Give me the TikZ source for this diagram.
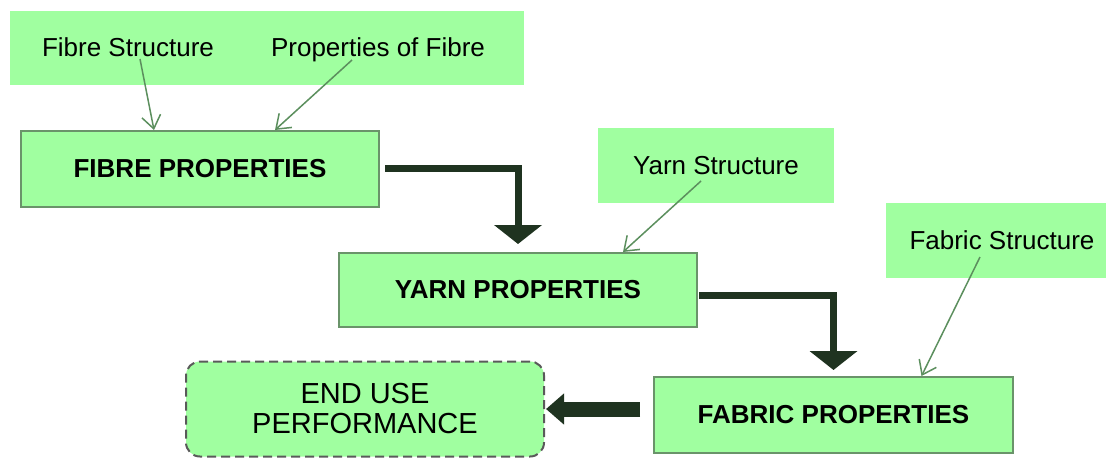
\documentclass[tikz,border=0pt]{standalone}
\usepackage{fontspec}
\setmainfont{Liberation Sans}
\usetikzlibrary{arrows.meta,calc}
\definecolor{boxfill}{HTML}{A0FFA0}
\definecolor{boxline}{HTML}{6A946A}
\definecolor{thinarr}{HTML}{5C8F5E}
\definecolor{thickarr}{HTML}{1F3320}
\definecolor{dashline}{HTML}{5A5A5A}
\begin{document}
\begin{tikzpicture}[x=1pt,y=-1pt,
  bgbox/.style={fill=boxfill, draw=none, inner sep=0pt},
  label/.style={inner sep=0pt, text height=19pt, text depth=5pt, font=\fontsize{26}{30}\selectfont},
  subbox/.style={fill=boxfill, draw=none, inner sep=0pt, font=\fontsize{26}{30}\selectfont},
  mainbox/.style={fill=boxfill, draw=boxline, line width=2pt, inner sep=0pt, font=\fontsize{26}{30}\selectfont\bfseries},
  endbox/.style={fill=boxfill, draw=dashline, line width=2pt, dash pattern=on 9pt off 5pt, rounded corners=14pt, inner sep=0pt, align=center, font=\fontsize{29}{30}\selectfont},
  thinarrow/.style={draw=thinarr, line width=1.5pt, -{Straight Barb[length=13pt,width=19pt]}},
  thickarrow/.style={draw=thickarr, line width=7pt, -{Triangle[width=47pt,length=19pt]}},
  thickarrowb/.style={draw=thickarr, line width=15pt, -{Triangle[width=30pt,length=18pt]}}
]
\useasboundingbox (0,0) rectangle (1108,459);
% top background box with two labels
\node[bgbox, minimum width=514pt, minimum height=74pt] (top) at (267,48) {};
\node[label] (fs) at (128,49) {Fibre Structure};
\node[label] (pf) at (378,49) {Properties of Fibre};
% main boxes
\node[mainbox, minimum width=358pt, minimum height=76pt] (fibre) at (200,169) {FIBRE PROPERTIES};
\node[subbox, minimum width=236pt, minimum height=75pt] (ys) at (716,165.5) {Yarn Structure};
\node[mainbox, minimum width=358pt, minimum height=74pt] (yarn) at (518,290) {YARN PROPERTIES};
\node[subbox, minimum width=220pt, minimum height=75pt] (fbs) at (996,240.5) {\hspace*{12pt}Fabric Structure};
\node[mainbox, minimum width=359pt, minimum height=76pt] (fabric) at (833.5,415) {FABRIC PROPERTIES};
\node[endbox, minimum width=358pt, minimum height=95pt] (endu) at (365,409) {END USE\\PERFORMANCE};
% thin arrows
\draw[thinarrow] ([shift={(12,10)}]fs.center) -- ([xshift=-46pt]fibre.north);
\draw[thinarrow] ([shift={(-26,11)}]pf.center) -- ([xshift=75pt]fibre.north);
\draw[thinarrow] ([shift={(-15,15.5)}]ys.center) -- ([xshift=105pt]yarn.north);
\draw[thinarrow] ([shift={(-16,16.5)}]fbs.center) -- ([xshift=88pt]fabric.north);
% thick arrows
\draw[thickarrow, shorten >=8pt] ([shift={(5,-1)}]fibre.east) -| (yarn.north);
\draw[thickarrow, shorten >=6pt] ([shift={(1,5)}]yarn.east) -| (fabric.north);
\draw[thickarrowb, shorten <=13pt, shorten >=1pt] (fabric.west |- endu.east) -- (endu.east);
\end{tikzpicture}
\end{document}
